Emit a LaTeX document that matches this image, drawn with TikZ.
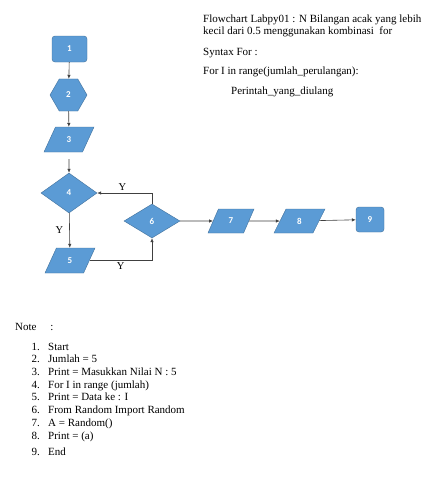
\documentclass[tikz,border=0pt]{standalone}
\usepackage{fontspec}
\setmainfont{Liberation Serif}
\newfontfamily\boxfont{Carlito}
\usetikzlibrary{
  shapes.geometric,
  arrows.meta
}
\definecolor{boxblue}{HTML}{5B9BD5}
\definecolor{boxline}{HTML}{41719C}

\begin{document}
\begin{tikzpicture}[
  x=1pt, y=-1pt,
  every node/.style={inner sep=0pt},
  box/.style={
    draw=boxline, fill=boxblue, text=white,
    font=\boxfont\bfseries\fontsize{9}{10}\selectfont,
    },
  terminal/.style={box, rounded corners=3pt, minimum width=35pt, minimum height=26pt},
  prep/.style={box, regular polygon, regular polygon sides=6, minimum size=37pt},
  io/.style={
    box, trapezium, trapezium stretches=true,
    trapezium left angle=72, trapezium right angle=108,
    minimum width=50pt, minimum height=25pt,
    },
  decision/.style={box, diamond, minimum width=56pt, minimum height=40pt},
  flow/.style={draw=black!75, line width=0.6pt, -{Latex[length=4pt,width=3.5pt]}},
  ylabel/.style={font=\fontsize{10.5}{12}\selectfont},
  note/.style={anchor=base west, font=\fontsize{11}{13}\selectfont},
  ]
\useasboundingbox[fill=white] (0,0) rectangle (437,479);

% flowchart
\node[terminal] (n1) at (69.5,49) {1};
\node[prep] (n2) at (68.5,95) {2};
\node[io] (n3) at (69,139.5) {3};
\node[decision] (n4) at (69,193) {4};
\node[io] (n5) at (70,260.5) {5};
\node[decision, minimum height=34pt] (n6) at (152,221) {6};
\node[io, minimum width=46pt, minimum height=24pt] (n7) at (231,221) {7};
\node[io, minimum width=51pt, minimum height=24pt] (n8) at (299.5,221) {8};
\node[terminal, minimum width=28pt, minimum height=25pt] (n9) at (370,219.5) {9};

\draw[flow] (n1) -- (n2);
\draw[flow] (n2) -- (n3);
\draw[flow, shorten <=7pt] (n3) -- (n4);
\draw[flow] (n4) -- node[ylabel, left=6pt] {Y} (n5);
\draw[flow] (n5.east) -| node[ylabel, pos=0.25, below=2pt] {Y} (n6.south);
\draw[flow] (n6.north) |- node[ylabel, pos=0.77, above=2pt] {Y} (n4.east);
\draw[flow] (n6) -- (n7);
\draw[flow] (n7) -- (n8);
\draw[flow] (n8) -- (n9);

% keterangan
\node[note] (title1) at (203,22.5) {Flowchart Labpy01 : N Bilangan acak yang lebih};
\node[note] (title2) at (203,34.5) {kecil dari 0.5 menggunakan kombinasi\ \ for};
\node[note] (syntax) at (203,55) {Syntax For :};
\node[note] (forline) at (203,74) {For I in range(jumlah\_perulangan):};
\node[note] (body) at (231,94) {Perintah\_yang\_diulang};

% note
\node[note] (notehead) at (15,330.5) {Note\quad\ :};
\foreach \i/\ypos/\txt in {
  1/350/Start, 2/362.5/Jumlah = 5, 3/375.5/Print = Masukkan Nilai N : 5,
  4/388/For I in range (jumlah), 5/400.5/Print = Data ke : I,
  6/413.5/From Random Import Random, 7/426.5/A = Random(), 8/439.5/Print = (a),
  9/455.5/End}{
  \node[note, anchor=base east] (num\i) at (40,\ypos) {\i.};
  \node[note] (item\i) at (48,\ypos) {\txt};
}
\end{tikzpicture}
\end{document}
